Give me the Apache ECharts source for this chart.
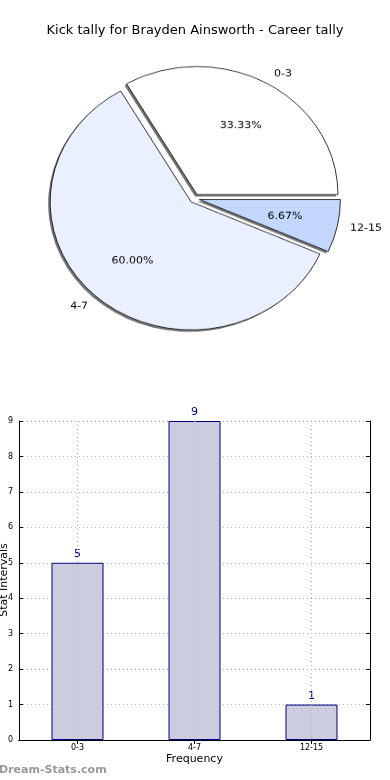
<!DOCTYPE html>
<html>
<head>
<meta charset="utf-8">
<script src="https://cdn.jsdelivr.net/npm/echarts@6/dist/echarts.min.js"></script>
<style>
  html, body { margin: 0; padding: 0; background: #fff; }
  #main { position: absolute; left: 0; top: 0; width: 390px; height: 780px; }
  #pie { position: absolute; left: 0; top: 0; width: 390px; height: 400px;
         transform: scaleY(0.908); transform-origin: 0 198.5px; }
</style>
</head>
<body>
<div id="main"></div>
<div id="pie"></div>
<script>
// ---- data ----
var titleText = 'Kick tally for Brayden Ainsworth - Career tally';
var categories = ['0-3', '4-7', '12-15'];
var counts = [5, 9, 1];
var yTicksMax = 9;
var yAxisTitle = 'Stat Intervals';
var xAxisTitle = 'Frequency';

// ---- styles ----
var FONT = 'DejaVu Sans';
var pieColors = ['#ffffff', '#eaf0ff', '#c3d7ff'];

var main = echarts.init(document.getElementById('main'));
main.setOption({
  animation: false,
  title: {
    text: titleText, left: 'center', top: 19,
    textStyle: { fontFamily: FONT, fontSize: 13, fontWeight: 'normal', color: '#000' }
  },
  grid: { left: 19, right: 20, top: 421, bottom: 40, containLabel: false, outerBoundsMode: 'none' },
  xAxis: [{
    type: 'category', data: categories, position: 'bottom',
    axisLine: { lineStyle: { color: '#000', width: 1 } },
    axisTick: { inside: true, alignWithLabel: true, length: 4, lineStyle: { color: '#000' } },
    axisLabel: { fontFamily: FONT, fontSize: 8, color: '#000', margin: 4 },
    name: xAxisTitle, nameLocation: 'middle', nameGap: 14,
    nameTextStyle: { fontFamily: FONT, fontSize: 11, color: '#000' },
    splitLine: { show: false }
  }, {
    type: 'category', data: categories, position: 'top', z: 5,
    axisLine: { show: true, lineStyle: { color: '#000', width: 1 } },
    axisTick: { show: true, inside: true, alignWithLabel: true, length: 4, lineStyle: { color: '#000' } },
    axisLabel: { show: false },
    splitLine: { show: true, alignWithLabel: true, lineStyle: { color: '#b0b0b0', type: [1, 3], width: 1 } }
  }],
  yAxis: [{
    type: 'value', min: 0, max: yTicksMax, interval: 1, position: 'left',
    axisLine: { show: true, lineStyle: { color: '#000', width: 1 } },
    axisTick: { show: true, inside: true, length: 4, lineStyle: { color: '#000' } },
    axisLabel: { fontFamily: FONT, fontSize: 8, color: '#000', margin: 6 },
    splitLine: { show: true, lineStyle: { color: '#b0b0b0', type: [1, 3], width: 1 } }
  }, {
    type: 'value', min: 0, max: yTicksMax, interval: 1, position: 'right',
    axisLine: { show: true, lineStyle: { color: '#000', width: 1 } },
    axisTick: { show: true, inside: true, length: 4, lineStyle: { color: '#000' } },
    axisLabel: { show: false },
    splitLine: { show: false }
  }],
  series: [{
    type: 'bar', data: counts, barWidth: 52, xAxisIndex: 0, yAxisIndex: 0,
    itemStyle: { color: '#ccccdf', borderColor: '#000080', borderWidth: 1 },
    label: { show: true, position: 'top', distance: 3, fontFamily: FONT, fontSize: 11, color: '#000080' },
    emphasis: { disabled: true }
  }],
  graphic: [{
    type: 'text', left: -1, top: 765,
    style: { text: 'Dream-Stats.com', fontFamily: FONT, fontSize: 11, fontWeight: 'bold', fill: '#9a9a9a' }
  }, {
    type: 'text', x: 4, y: 580, rotation: Math.PI / 2,
    style: { text: yAxisTitle, fontFamily: FONT, fontSize: 11, fill: '#000', align: 'center', verticalAlign: 'middle' }
  }]
});

var pie = echarts.init(document.getElementById('pie'));
var fillData = categories.map(function (c, i) {
  return { name: c, value: counts[i], selected: true, itemStyle: { color: pieColors[i] } };
});
var edgeData = categories.map(function (c, i) {
  return { name: c, value: counts[i], selected: true };
});
var common = {
  type: 'pie', center: [194.5, 198.5], radius: 141,
  startAngle: 0, clockwise: false,
  selectedMode: 'multiple', selectedOffset: 5,
  avoidLabelOverlap: false, silent: true,
  emphasis: { disabled: true }
};
pie.setOption({
  animation: false,
  series: [
    Object.assign({}, common, {
      data: fillData,
      itemStyle: {
        borderWidth: 0,
        shadowColor: 'rgba(0,0,0,0.55)', shadowBlur: 0, shadowOffsetX: -2, shadowOffsetY: 2
      },
      label: { show: false }, labelLine: { show: false }
    }),
    Object.assign({}, common, {
      data: edgeData,
      itemStyle: { color: 'rgba(0,0,0,0)', borderColor: '#000', borderWidth: 0.8 },
      label: {
        show: true, position: 'outside', formatter: '{b}', distanceToLabelLine: 0,
        fontFamily: FONT, fontSize: 11, color: '#000'
      },
      labelLine: { show: false, length: 13, length2: 0 }
    }),
    Object.assign({}, common, {
      radius: 169.2,
      data: edgeData,
      itemStyle: { color: 'rgba(0,0,0,0)', borderWidth: 0 },
      label: {
        show: true, position: 'inside',
        formatter: function (p) { return p.percent.toFixed(2) + '%'; },
        fontFamily: FONT, fontSize: 11, color: '#000', textBorderWidth: 0
      },
      labelLine: { show: false }
    })
  ]
});
</script>
</body>
</html>
